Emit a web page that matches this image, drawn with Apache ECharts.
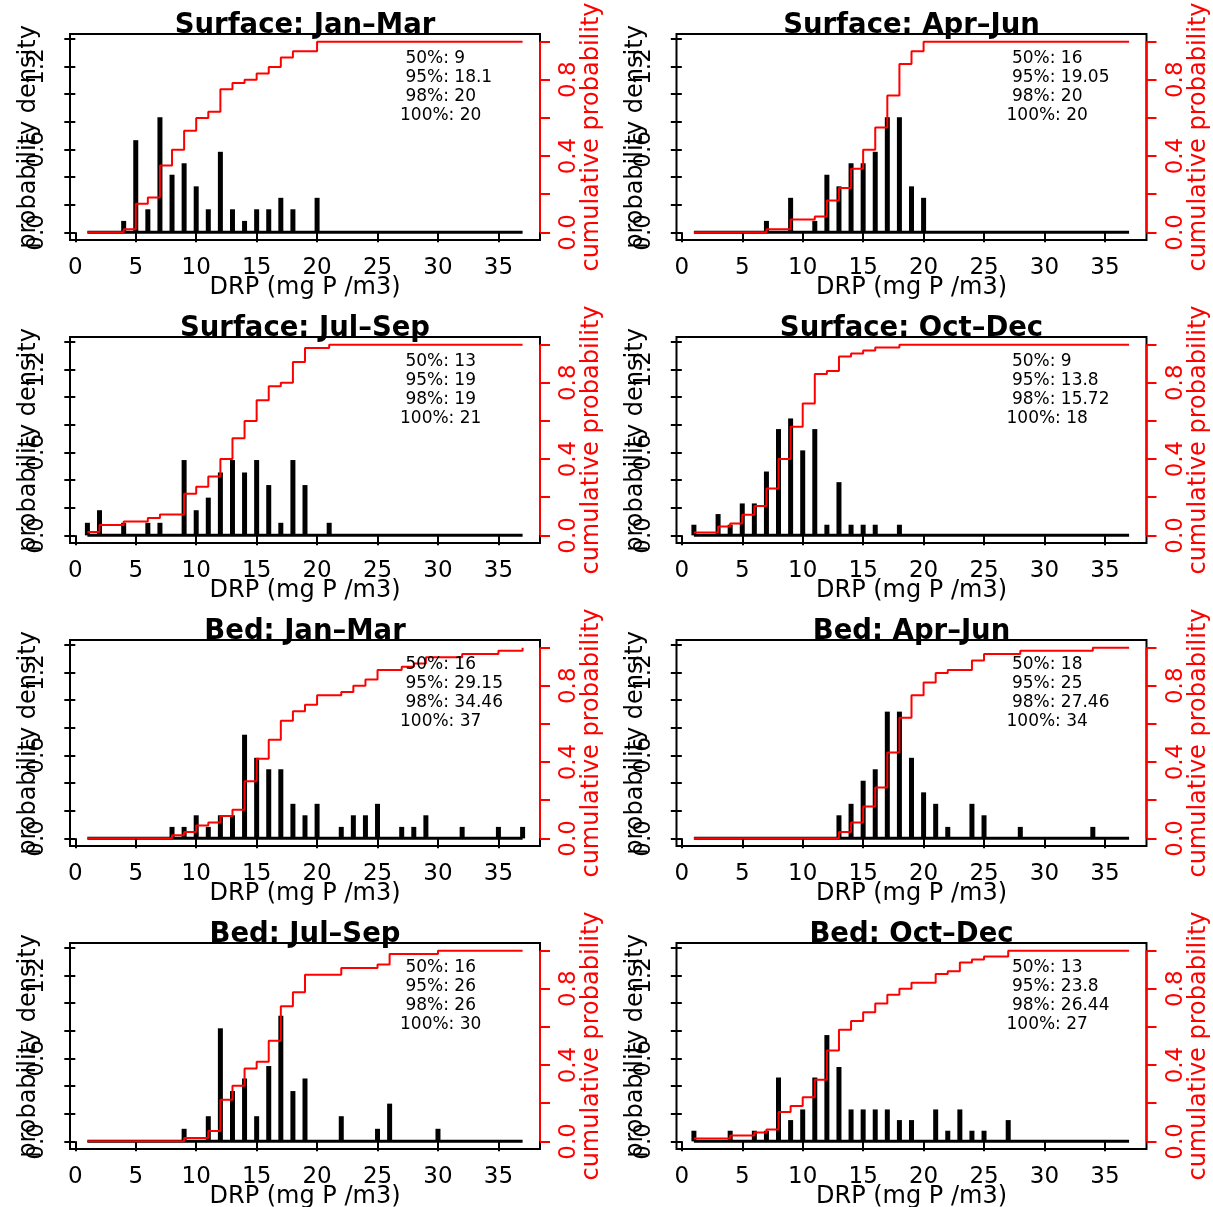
<!DOCTYPE html>
<html><head><meta charset="utf-8">
<script src="https://cdn.jsdelivr.net/npm/echarts@6/dist/echarts.min.js"></script>
<style>html,body{margin:0;padding:0;background:#fff}#c{width:1213px;height:1207px}</style>
</head><body><div id="c"></div>
<script>
// ---------- data ----------
const drp = [1,2,3,4,5,6,7,8,9,10,11,12,13,14,15,16,17,18,19,20,21,22,23,24,25,26,27,28,29,30,31,32,33,34,35,36,37];
const xTicks = [0,5,10,15,20,25,30,35];
const densTicks = [0,0.2,0.4,0.6,0.8,1.0,1.2,1.4];
const densLabels = [0,0.6,1.2];
const cumTicks = [0,0.2,0.4,0.6,0.8,1.0];
const cumLabels = [0,0.4,0.8];
const densLim = [0,1.38];
const cumLim = [0,1];
const quantNames = [" 50%"," 95%"," 98%","100%"];
const titles = ["Surface: Jan–Mar","Surface: Apr–Jun","Surface: Jul–Sep","Surface: Oct–Dec","Bed: Jan–Mar","Bed: Apr–Jun","Bed: Jul–Sep","Bed: Oct–Dec"];

const dens_SurfJanMar = [0,0,0,0.083,0.667,0.167,0.833,0.417,0.5,0.333,0.167,0.583,0.167,0.083,0.167,0.167,0.25,0.167,0,0.25,0,0,0,0,0,0,0,0,0,0,0,0,0,0,0,0,0];
const cum_SurfJanMar = [0,0,0,0.017,0.15,0.183,0.35,0.433,0.533,0.6,0.633,0.75,0.783,0.8,0.833,0.867,0.917,0.95,0.95,1,1,1,1,1,1,1,1,1,1,1,1,1,1,1,1,1,1];
const quant_SurfJanMar = ["9","18.1","20","20"];

const dens_SurfAprJun = [0,0,0,0,0,0,0.083,0,0.25,0,0.083,0.417,0.333,0.5,0.5,0.583,0.833,0.833,0.333,0.25,0,0,0,0,0,0,0,0,0,0,0,0,0,0,0,0,0];
const cum_SurfAprJun = [0,0,0,0,0,0,0.017,0.017,0.067,0.067,0.083,0.167,0.233,0.333,0.433,0.55,0.717,0.883,0.95,1,1,1,1,1,1,1,1,1,1,1,1,1,1,1,1,1,1];
const quant_SurfAprJun = ["16","19.05","20","20"];

const dens_SurfJulSep = [0.091,0.182,0,0.091,0,0.091,0.091,0,0.545,0.182,0.273,0.455,0.545,0.455,0.545,0.364,0.091,0.545,0.364,0,0.091,0,0,0,0,0,0,0,0,0,0,0,0,0,0,0,0];
const cum_SurfJulSep = [0.018,0.055,0.055,0.073,0.073,0.091,0.109,0.109,0.218,0.255,0.309,0.4,0.509,0.6,0.709,0.782,0.8,0.909,0.982,0.982,1,1,1,1,1,1,1,1,1,1,1,1,1,1,1,1,1];
const quant_SurfJulSep = ["13","19","19","21"];

const dens_SurfOctDec = [0.077,0,0.154,0.077,0.231,0.231,0.462,0.769,0.846,0.615,0.769,0.077,0.385,0.077,0.077,0.077,0,0.077,0,0,0,0,0,0,0,0,0,0,0,0,0,0,0,0,0,0,0];
const cum_SurfOctDec = [0.015,0.015,0.046,0.062,0.108,0.154,0.246,0.4,0.569,0.692,0.846,0.862,0.938,0.954,0.969,0.985,0.985,1,1,1,1,1,1,1,1,1,1,1,1,1,1,1,1,1,1,1,1];
const quant_SurfOctDec = ["9","13.8","15.72","18"];

const dens_BedJanMar = [0,0,0,0,0,0,0,0.083,0.083,0.167,0.083,0.167,0.167,0.75,0.583,0.5,0.5,0.25,0.167,0.25,0,0.083,0.167,0.167,0.25,0,0.083,0.083,0.167,0,0,0.083,0,0,0.083,0,0.083];
const cum_BedJanMar = [0,0,0,0,0,0,0,0.017,0.033,0.067,0.083,0.117,0.15,0.3,0.417,0.517,0.617,0.667,0.7,0.75,0.75,0.767,0.8,0.833,0.883,0.883,0.9,0.917,0.95,0.95,0.95,0.967,0.967,0.967,0.983,0.983,1];
const quant_BedJanMar = ["16","29.15","34.46","37"];

const dens_BedAprJun = [0,0,0,0,0,0,0,0,0,0,0,0,0.167,0.25,0.417,0.5,0.917,0.917,0.583,0.333,0.25,0.083,0,0.25,0.167,0,0,0.083,0,0,0,0,0,0.083,0,0,0];
const cum_BedAprJun = [0,0,0,0,0,0,0,0,0,0,0,0,0.033,0.083,0.167,0.267,0.45,0.633,0.75,0.817,0.867,0.883,0.883,0.933,0.967,0.967,0.967,0.983,0.983,0.983,0.983,0.983,0.983,1,1,1,1];
const quant_BedAprJun = ["18","25","27.46","34"];

const dens_BedJulSep = [0,0,0,0,0,0,0,0,0.091,0,0.182,0.818,0.364,0.455,0.182,0.545,0.909,0.364,0.455,0,0,0.182,0,0,0.091,0.273,0,0,0,0.091,0,0,0,0,0,0,0];
const cum_BedJulSep = [0,0,0,0,0,0,0,0,0.018,0.018,0.055,0.218,0.291,0.382,0.418,0.527,0.709,0.782,0.873,0.873,0.873,0.909,0.909,0.909,0.927,0.982,0.982,0.982,0.982,1,1,1,1,1,1,1,1];
const quant_BedJulSep = ["16","26","26","30"];

const dens_BedOctDec = [0.077,0,0,0.077,0,0.077,0.077,0.462,0.154,0.231,0.462,0.769,0.538,0.231,0.231,0.231,0.231,0.154,0.154,0,0.231,0.077,0.231,0.077,0.077,0,0.154,0,0,0,0,0,0,0,0,0,0];
const cum_BedOctDec = [0.015,0.015,0.015,0.031,0.031,0.046,0.062,0.154,0.185,0.231,0.323,0.477,0.585,0.631,0.677,0.723,0.769,0.8,0.831,0.831,0.877,0.892,0.938,0.954,0.969,0.969,1,1,1,1,1,1,1,1,1,1,1];
const quant_BedOctDec = ["13","23.8","26.44","27"];

const panels = [
  {dens: dens_SurfJanMar, cum: cum_SurfJanMar, q: quant_SurfJanMar},
  {dens: dens_SurfAprJun, cum: cum_SurfAprJun, q: quant_SurfAprJun},
  {dens: dens_SurfJulSep, cum: cum_SurfJulSep, q: quant_SurfJulSep},
  {dens: dens_SurfOctDec, cum: cum_SurfOctDec, q: quant_SurfOctDec},
  {dens: dens_BedJanMar, cum: cum_BedJanMar, q: quant_BedJanMar},
  {dens: dens_BedAprJun, cum: cum_BedAprJun, q: quant_BedAprJun},
  {dens: dens_BedJulSep, cum: cum_BedJulSep, q: quant_BedJulSep},
  {dens: dens_BedOctDec, cum: cum_BedOctDec, q: quant_BedOctDec}
];

// ---------- layout ----------
const PW = 606.5, PH = 303, BL = 70, BT = 34, BW = 470, BH = 206;
const FF = '"DejaVu Sans"';
const RED = '#ff0000';
function expand(lim){ const d = (lim[1]-lim[0])*0.04; return [lim[0]-d, lim[1]+d]; }
const xr = expand([drp[0], drp[drp.length-1]]);
const dr = expand(densLim);
const cr = expand(cumLim);

const grid=[], xAxis=[], yAxis=[], series=[], graphic=[];
panels.forEach((p,i)=>{
  const col = i%2, row = Math.floor(i/2);
  const ox = col*PW, oy = row*PH;
  const left = ox+BL, top = oy+BT;
  grid.push({left:left, top:top, width:BW, height:BH, show:true, borderColor:'#000', borderWidth:2, backgroundColor:'transparent', containLabel:false, outerBoundsMode:'none'});
  xAxis.push({type:'value', gridIndex:i, min:xr[0], max:xr[1],
    axisLine:{show:false},
    axisTick:{show:true, customValues:xTicks, length:10, inside:false, lineStyle:{color:'#000', width:2}},
    axisLabel:{show:true, customValues:xTicks, margin:17, color:'#000', fontSize:23, fontFamily:FF},
    splitLine:{show:false},
    name:'DRP (mg P /m3)', nameLocation:'middle', nameGap:36, nameMoveOverlap:false,
    nameTextStyle:{color:'#000', fontSize:24, fontFamily:FF}});
  yAxis.push({type:'value', gridIndex:i, position:'left', min:dr[0], max:dr[1],
    axisLine:{show:false},
    axisTick:{show:true, customValues:densTicks, length:11, lineStyle:{color:'#000', width:2}},
    axisLabel:{show:true, customValues:densLabels, rotate:90, margin:21, color:'#000', fontSize:23, fontFamily:FF, formatter:v=>Number(v).toFixed(1)},
    splitLine:{show:false},
    name:'probability density', nameLocation:'middle', nameGap:29, nameRotate:90, nameMoveOverlap:false,
    nameTextStyle:{color:'#000', fontSize:24, fontFamily:FF}});
  yAxis.push({type:'value', gridIndex:i, position:'right', min:cr[0], max:cr[1],
    axisLine:{show:false},
    axisTick:{show:true, customValues:cumTicks, length:10, lineStyle:{color:RED, width:2}},
    axisLabel:{show:true, customValues:cumLabels, rotate:90, margin:18, color:RED, fontSize:23, fontFamily:FF, formatter:v=>Number(v).toFixed(1)},
    splitLine:{show:false},
    name:'cumulative probability', nameLocation:'middle', nameGap:40, nameRotate:90, nameMoveOverlap:false,
    nameTextStyle:{color:RED, fontSize:24, fontFamily:FF}});
  series.push({type:'bar', xAxisIndex:i, yAxisIndex:2*i, data:drp.map((x,k)=>[x,p.dens[k]]),
    barWidth:5, itemStyle:{color:'#000'}, silent:true, z:2});
  series.push({type:'line', xAxisIndex:i, yAxisIndex:2*i, data:[[drp[0],0],[drp[drp.length-1],0]],
    symbol:'none', lineStyle:{color:'#000', width:3}, silent:true, z:3});
  series.push({type:'line', step:'end', xAxisIndex:i, yAxisIndex:2*i+1, data:drp.map((x,k)=>[x,p.cum[k]]),
    symbol:'none', lineStyle:{color:RED, width:2}, silent:true, z:5});
  series.push({type:'line', xAxisIndex:i, yAxisIndex:2*i+1, data:[[xr[1],cumLim[0]],[xr[1],cumLim[1]]],
    symbol:'none', clip:false, lineStyle:{color:RED, width:2}, silent:true, z:6});
  graphic.push({type:'text', x:left+BW/2, y:top-8, z:100,
    style:{text:titles[i], fill:'#000', font:'bold 27.5px '+FF, align:'center', verticalAlign:'middle'}});
  p.q.forEach((v,j)=>{
    graphic.push({type:'text', x:left+330, y:top+25+j*19, z:100,
      style:{text:quantNames[j]+': '+v, fill:'#000', font:'17px '+FF, align:'left', verticalAlign:'middle'}});
  });
});

const chart = echarts.init(document.getElementById('c'), null, {renderer:'canvas'});
chart.setOption({animation:false, backgroundColor:'#fff', grid, xAxis, yAxis, series, graphic});
</script></body></html>
